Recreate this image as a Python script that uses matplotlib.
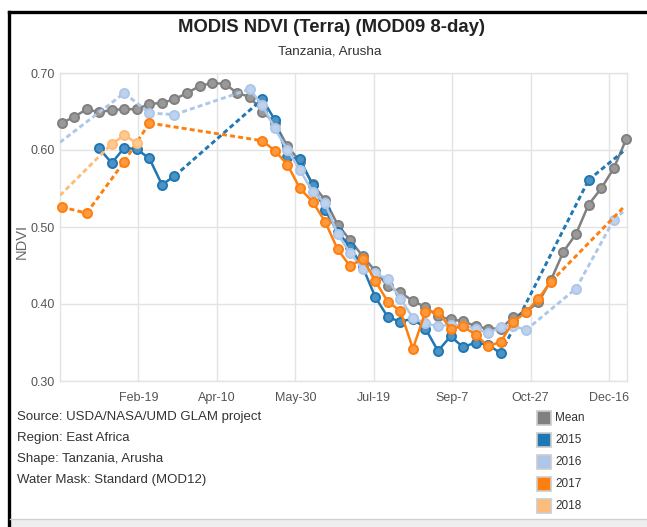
import numpy as np
import matplotlib
matplotlib.use("Agg")
import matplotlib.pyplot as plt
from matplotlib import font_manager
from matplotlib.patches import Rectangle
from matplotlib.lines import Line2D
import matplotlib.colors as mcolors

# ---------------- data ----------------
days = [1, 9, 17, 25, 33, 41, 49, 57, 65, 73, 81, 89, 97, 105, 113, 121,
        129, 137, 145, 153, 161, 169, 177, 185, 193, 201, 209, 217, 225, 233,
        241, 249, 257, 265, 273, 281, 289, 297, 305, 313, 321, 329, 337, 345,
        353, 361]
N = None
mean = [0.635, 0.643, 0.653, 0.649, 0.652, 0.653, 0.653, 0.660, 0.661, 0.666,
        0.674, 0.683, 0.687, 0.686, 0.674, 0.669, 0.650, 0.635, 0.605, 0.585,
        0.556, 0.535, 0.503, 0.483, 0.462, 0.443, 0.423, 0.415, 0.404, 0.396,
        0.384, 0.380, 0.378, 0.371, 0.368, 0.368, 0.383, 0.390, 0.402, 0.431,
        0.468, 0.491, 0.529, 0.550, 0.576, 0.614]
y2015 = [N, N, N, 0.602, 0.583, 0.603, 0.601, 0.589, 0.555, 0.566,
         N, N, N, N, N, N, 0.666, 0.639, 0.591, 0.588,
         0.555, 0.522, 0.494, 0.474, 0.448, 0.409, 0.383, 0.377, 0.381, 0.368,
         0.339, 0.358, 0.344, 0.350, 0.347, 0.336, N, N, N, N,
         N, N, 0.561, N, N, N]
y2016 = [N, N, N, N, N, 0.674, N, 0.648, N, 0.646,
         N, N, N, N, N, 0.679, 0.658, 0.628, 0.600, 0.574,
         0.546, 0.531, 0.491, 0.466, 0.446, 0.440, 0.432, 0.407, 0.382, 0.375,
         0.371, 0.373, 0.372, 0.368, 0.362, 0.370, 0.372, 0.366, N, N,
         N, 0.420, N, N, 0.509, N]
y2017 = [0.526, N, 0.518, N, N, 0.585, N, 0.635, N, N,
         N, N, N, N, N, N, 0.612, 0.599, 0.581, 0.550,
         0.533, 0.507, 0.471, 0.449, 0.459, 0.430, 0.403, 0.391, 0.342, 0.390,
         0.390, 0.368, 0.371, 0.360, 0.345, 0.351, 0.377, 0.389, 0.407, 0.429,
         N, N, N, N, N, N]
y2018 = [N, N, N, N, 0.608, 0.619, 0.609, N, N, N,
         N, N, N, N, N, N, N, N, N, N,
         N, N, N, N, N, N, N, N, N, N,
         N, N, N, N, N, N, N, N, N, N,
         N, N, N, N, N, N]
# values where the dashed connectors meet the left / right plot edges
lead_in = {"2016": 0.610, "2018": 0.541}
lead_out = {"2015": 0.598, "2016": 0.520, "2017": 0.525}

series_labels = ["Mean", "2015", "2016", "2017", "2018"]
series_values = [mean, y2015, y2016, y2017, y2018]
series_colors = ["#808080", "#1f77b4", "#aec7e8", "#ff7f0e", "#ffbb78"]

tick_days = [50, 100, 150, 200, 250, 300, 350]
tick_labels = ["Feb-19", "Apr-10", "May-30", "Jul-19", "Sep-7", "Oct-27", "Dec-16"]
y_ticks = [0.30, 0.40, 0.50, 0.60, 0.70]

title = "MODIS NDVI (Terra) (MOD09 8-day)"
subtitle = "Tanzania, Arusha"
source_lines = ["Source: USDA/NASA/UMD GLAM project",
                "Region: East Africa",
                "Shape: Tanzania, Arusha",
                "Water Mask: Standard (MOD12)"]

# ---------------- fonts ----------------
def pick(fams):
    for f in fams:
        try:
            font_manager.findfont(font_manager.FontProperties(family=f),
                                  fallback_to_default=False)
            return f
        except Exception:
            continue
    return "DejaVu Sans"

FONT = pick(["Liberation Sans Narrow", "Liberation Sans", "Arial"])
plt.rcParams["font.family"] = [FONT, "DejaVu Sans"]

# ---------------- figure ----------------
W, H = 647, 527
fig = plt.figure(figsize=(W / 100, H / 100), dpi=100)
fig.patch.set_facecolor("white")

def fx(px):
    return px / W

def fy(py):
    return 1 - py / H

ax = fig.add_axes([fx(60), fy(381), fx(627) - fx(60), fy(73) - fy(381)])
x_start, x_end = 0, 361.5
ax.set_xlim(x_start, x_end)
ax.set_ylim(0.30, 0.70)
ax.set_xticks(tick_days)
ax.set_xticklabels(tick_labels)
ax.set_yticks(y_ticks)
ax.set_yticklabels([f"{v:.2f}" for v in y_ticks])
ax.tick_params(length=0, labelsize=9, labelcolor="#555555")
ax.tick_params(axis="x", pad=8)
ax.tick_params(axis="y", pad=4)
ax.grid(True, color="#e3e3e3", lw=1.0)
ax.set_axisbelow(True)
for s in ax.spines.values():
    s.set_color("#e3e3e3")
    s.set_linewidth(1.0)

x = np.array(days, float)
DASH = (0, (1.7, 1.1))

def lighten(c, f):
    r, g, b = mcolors.to_rgb(c)
    return (r + (1 - r) * f, g + (1 - g) * f, b + (1 - b) * f)

for i, (lab, vals, col) in enumerate(zip(series_labels, series_values, series_colors)):
    z = 3 + i
    y = np.array([np.nan if v is None else v for v in vals], float)
    valid = ~np.isnan(y)
    idx = np.where(valid)[0]
    ax.plot(x, y, "-", color=col, lw=1.8, zorder=z, solid_capstyle="round")
    for a, b in zip(idx[:-1], idx[1:]):
        if b - a > 1:
            ax.plot([x[a], x[b]], [y[a], y[b]], color=col, lw=2.1, ls=DASH, zorder=z)
    if lab in lead_in:
        ax.plot([x_start, x[idx[0]]], [lead_in[lab], y[idx[0]]], color=col,
                lw=2.1, ls=DASH, zorder=z)
    if lab in lead_out:
        ax.plot([x[idx[-1]], 359], [y[idx[-1]], lead_out[lab]], color=col,
                lw=2.1, ls=DASH, zorder=z)
    ax.plot(x[valid], y[valid], "o", ms=6.5, mfc=lighten(col, 0.2), mec=col,
            mew=1.4, zorder=z + 0.5, clip_on=False)

# ---------------- texts ----------------
fig.text(fx(331), fy(28), title, ha="center", va="center", fontsize=13.3,
         fontweight="bold", color="#222222")
fig.text(fx(330), fy(52), subtitle, ha="center", va="center", fontsize=9.7,
         color="#333333")
fig.text(fx(22), fy(241), "NDVI", rotation=90, ha="center", va="center",
         fontsize=10.5, color="#666666")

for j, line in enumerate(source_lines):
    fig.text(fx(17), fy(417 + 21 * j), line, ha="left", va="center",
             fontsize=9.5, color="#333333")

for j, (lab, col) in enumerate(zip(series_labels, series_colors)):
    yc = 418 + 22 * j
    fig.add_artist(Rectangle((fx(537), fy(yc + 7)), fx(14), 14 / H,
                             transform=fig.transFigure, facecolor=col,
                             edgecolor="#cccccc", lw=1.2))
    fig.text(fx(555), fy(yc), lab, ha="left", va="center", fontsize=8.5,
             color="#333333")

# ---------------- frame ----------------
fig.add_artist(Line2D([fx(9), 1], [fy(12), fy(12)], color="black", lw=2.4,
                      transform=fig.transFigure))
fig.add_artist(Line2D([fx(9), fx(9)], [0, fy(12)], color="black", lw=2.4,
                      transform=fig.transFigure))
fig.add_artist(Rectangle((fx(10), 0), 1, 8 / H, transform=fig.transFigure,
                         facecolor="#eeeeee", edgecolor="none"))
fig.add_artist(Line2D([fx(10), 1], [fy(519), fy(519)], color="#d0d0d0", lw=1,
                      transform=fig.transFigure))

fig.savefig("out.png", dpi=100)
